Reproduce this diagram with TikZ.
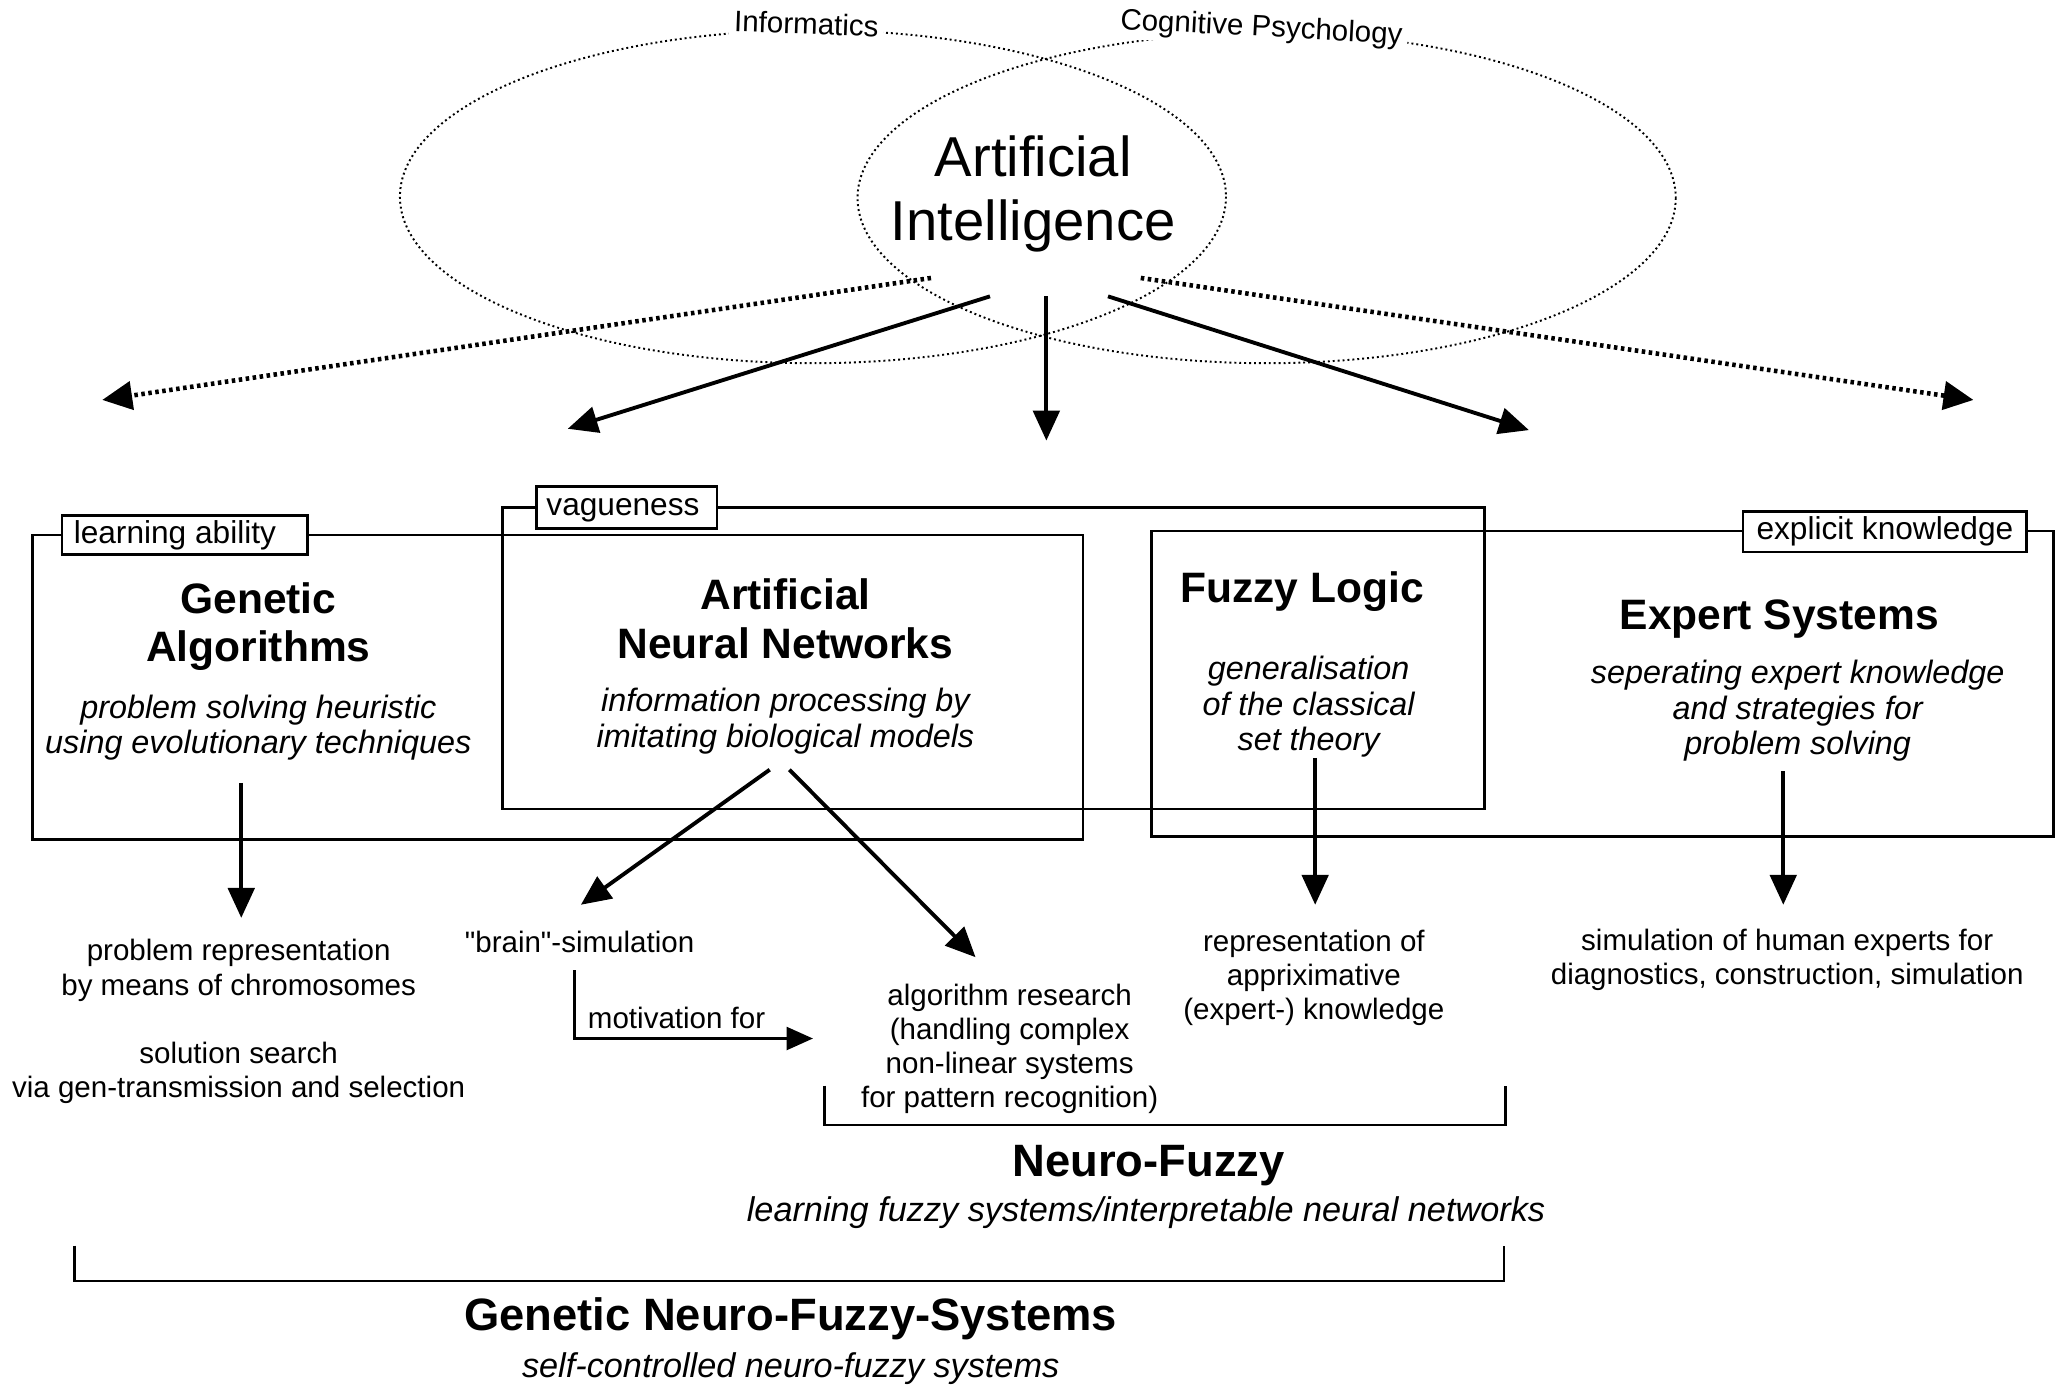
\documentclass[tikz,border=0pt]{standalone}
\usepackage{fontspec}
\setmainfont{Liberation Sans}
\newfontfamily\qfont{Liberation Sans}[Ligatures=TeXOff]
\usetikzlibrary{arrows.meta}
\begin{document}
\begin{tikzpicture}[x=0.013112cm,y=-0.013112cm,
  every node/.style={inner sep=0pt},
  head/.style={align=center, font=\fontsize{12.1}{13.75}\selectfont\bfseries},
  bighead/.style={align=center, font=\fontsize{12.9}{14}\selectfont\bfseries},
  desc/.style={align=center, font=\fontsize{9.2}{10}\selectfont\itshape},
  subdesc/.style={align=center, font=\fontsize{9.75}{10.5}\selectfont\itshape},
  plain/.style={align=center, font=\fontsize{8.4}{9.7}\selectfont},
  tag/.style={draw, fill=white, line width=0.75pt, font=\fontsize{9}{10}\selectfont, text height=6.6pt, text depth=1.9pt},
  field/.style={fill=white, inner xsep=1.5pt, inner ysep=1pt, font=\fontsize{8.4}{9}\selectfont},
  grp/.style={line width=0.75pt},
  dots/.style={line width=0.55pt, dash pattern=on 0.55pt off 0.85pt},
  arr/.style={line width=1.1pt, -{Triangle[length=8.5pt,width=7.5pt]}},
  darr/.style={line width=1.3pt, dash pattern=on 1pt off 1pt, -{Triangle[length=8.5pt,width=8pt]}},
  marr/.style={line width=0.8pt, -{Triangle[length=7.5pt,width=6.5pt]}},
  brk/.style={line width=0.8pt}
]
\useasboundingbox (0,0) rectangle (1568,1057);

% fields
\draw[dots] (620,150) ellipse [x radius=315, y radius=127];
\draw[dots] (966,151) ellipse [x radius=312, y radius=126];
\node[field, rotate=-2] (inf) at (615,18) {Informatics};
\node[field, rotate=-3] (cog) at (962,22) {Cognitive Psychology};

\node[align=center, font=\fontsize{16}{18.2}\selectfont] (ai) at (788,148) {Artificial\\Intelligence};

% arrows from AI
\coordinate (dl0) at (710,212); \coordinate (dl1) at (78,305);
\coordinate (dr0) at (870,212); \coordinate (dr1) at (1505,305);
\coordinate (a1s) at (755,226); \coordinate (a1e) at (433,327);
\coordinate (a2s) at (798,226); \coordinate (a2e) at (798,336);
\coordinate (a3s) at (845,226); \coordinate (a3e) at (1166,328);
\draw[darr] (dl0) -- (dl1);
\draw[darr] (dr0) -- (dr1);
\draw[arr] (a1s) -- (a1e);
\draw[arr] (a2s) -- (a2e);
\draw[arr] (a3s) -- (a3e);

% group rectangles
\draw[grp] (25,408) rectangle (826,640);
\draw[grp] (383,387) rectangle (1132,617);
\draw[grp] (878,405) rectangle (1566,638);

\node[tag, minimum width=69.9pt, minimum height=11.15pt, inner xsep=3.35pt] (tl) at (141,408) {\makebox[63.2pt][l]{learning ability}};
\node[tag, minimum width=51.3pt, minimum height=11.9pt, inner xsep=2.8pt] (tv) at (478,387) {\makebox[45.7pt][l]{vagueness}};
\node[tag, minimum width=80.7pt, minimum height=11.5pt] (te) at (1437.5,405.5) {explicit knowledge};

% headings in boxes
\node[head] (ga) at (197,478) {Genetic\\Algorithms};
\node[desc] (gad) at (197,555) {problem solving heuristic\\using evolutionary techniques};
\node[head] (ann) at (599,472) {Artificial\\Neural Networks};
\node[desc] (annd) at (599,550) {information processing by\\imitating biological models};
\node[head] (fl) at (993,451) {Fuzzy Logic};
\node[desc] (fld) at (998,539) {generalisation\\of the classical\\set theory};
\node[head] (es) at (1357,472) {Expert Systems};
\node[desc] (esd) at (1371,542) {seperating expert knowledge\\and strategies for\\problem solving};

% lower texts
\node[plain] (gl1) at (182,740) {problem representation\\by means of chromosomes};
\node[plain] (gl2) at (182,818) {solution search\\via gen-transmission and selection};
\node[plain] (brain) at (442,718) {{\qfont "brain"-simulation}};
\node[plain] (alg) at (770,800) {algorithm research\\(handling complex\\non-linear systems\\for pattern recognition)};
\node[plain] (rep) at (1002,746) {representation of\\appriximative\\(expert-) knowledge};
\node[plain] (sim) at (1363,732) {simulation of human experts for\\diagnostics, construction, simulation};

% arrows from boxes
\coordinate (g0) at (184,597); \coordinate (g1) at (184,700);
\coordinate (n0) at (587,587); \coordinate (n1) at (443,690);
\coordinate (m0) at (602,587); \coordinate (m1) at (744,730);
\coordinate (f0) at (1003,578); \coordinate (f1) at (1003,690);
\coordinate (e0) at (1360,588); \coordinate (e1) at (1360,690);
\draw[arr] (g0) -- (g1);
\draw[arr] (n0) -- (n1);
\draw[arr] (m0) -- (m1);
\draw[arr] (f0) -- (f1);
\draw[arr] (e0) -- (e1);

% motivation
\coordinate (mv0) at (438,740); \coordinate (mv1) at (438,792); \coordinate (mv2) at (620,792);
\draw[marr] (mv0) -- (mv1) -- (mv2);
\node[plain] (mot) at (516,776) {motivation for};

% brackets
\coordinate (nb0) at (629,828); \coordinate (nb1) at (629,858);
\coordinate (nb2) at (1148,858); \coordinate (nb3) at (1148,828);
\draw[brk] (nb0) -- (nb1) -- (nb2) -- (nb3);
\node[bighead] (nf) at (876,889) {Neuro-Fuzzy};
\node[subdesc] (nfd) at (874,925) {learning fuzzy systems/interpretable neural networks};

\coordinate (gb0) at (57,950); \coordinate (gb1) at (57,977);
\coordinate (gb2) at (1147,977); \coordinate (gb3) at (1147,950);
\draw[brk] (gb0) -- (gb1) -- (gb2) -- (gb3);
\node[bighead] (gnf) at (603,1006) {Genetic Neuro-Fuzzy-Systems};
\node[subdesc] (gnfd) at (603,1044) {self-controlled neuro-fuzzy systems};
\end{tikzpicture}
\end{document}
